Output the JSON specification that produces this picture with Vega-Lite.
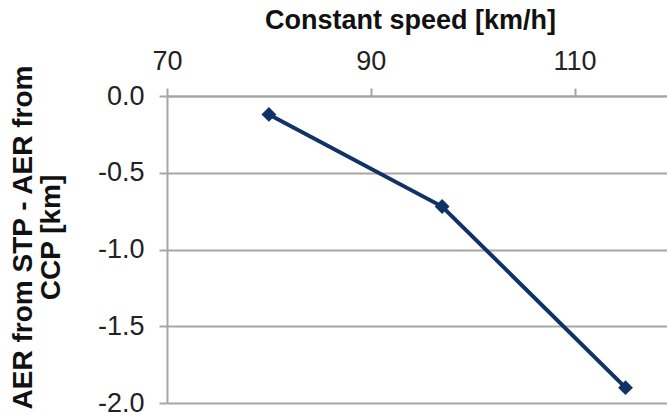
{
  "$schema": "https://vega.github.io/schema/vega-lite/v6.json",
  "width": 500,
  "height": 307,
  "autosize": {"type": "none"},
  "padding": {"left": 167, "top": 96, "right": 0, "bottom": 13},
  "background": "white",
  "config": {
    "view": {"stroke": null},
    "font": "Liberation Sans"
  },
  "data": {
    "values": [
      {"speed": 80, "diff": -0.12},
      {"speed": 97, "diff": -0.72},
      {"speed": 115, "diff": -1.9}
    ]
  },
  "layer": [
    {
      "mark": {"type": "line", "color": "#0f3366", "strokeWidth": 4},
      "encoding": {
        "x": {
          "field": "speed",
          "type": "quantitative",
          "scale": {"domain": [70, 119.07], "nice": false, "zero": false},
          "axis": {
            "orient": "top",
            "title": "Constant speed [km/h]",
            "values": [70, 90, 110],
            "grid": false,
            "domain": true,
            "domainColor": "#a6a6a6",
            "domainWidth": 2,
            "ticks": true,
            "tickColor": "#a6a6a6",
            "tickWidth": 2,
            "tickSize": 8,
            "labelFlush": false,
            "labelOverlap": false,
            "labelFont": "Liberation Sans",
            "labelFontSize": 27,
            "labelColor": "#222222",
            "labelPadding": 13,
            "titleFont": "Liberation Sans",
            "titleFontSize": 27,
            "titleFontWeight": "bold",
            "titleColor": "#111111",
            "titleX": 243,
            "titleY": -62
          }
        },
        "y": {
          "field": "diff",
          "type": "quantitative",
          "scale": {"domain": [-2, 0], "nice": false},
          "axis": {
            "title": ["AER from STP - AER from", "CCP [km]"],
            "values": [0, -0.5, -1, -1.5, -2],
            "format": ".1f",
            "labelExpr": "replace(datum.label, '−', '-')",
            "grid": true,
            "gridColor": "#a6a6a6",
            "gridWidth": 2,
            "domain": true,
            "domainColor": "#a6a6a6",
            "domainWidth": 2,
            "ticks": true,
            "tickColor": "#a6a6a6",
            "tickWidth": 2,
            "tickSize": 8,
            "labelFlush": false,
            "labelOverlap": false,
            "labelFont": "Liberation Sans",
            "labelFontSize": 27,
            "labelColor": "#222222",
            "labelPadding": 15,
            "titleFont": "Liberation Sans",
            "titleFontSize": 28,
            "titleFontWeight": "bold",
            "titleColor": "#111111",
            "titleLineHeight": 28,
            "titleAngle": -90,
            "titleAlign": "center",
            "titleBaseline": "top",
            "titleX": -158,
            "titleY": 141
          }
        }
      }
    },
    {
      "mark": {"type": "point", "shape": "diamond", "filled": true, "color": "#0f3366", "size": 220, "opacity": 1},
      "encoding": {
        "x": {"field": "speed", "type": "quantitative"},
        "y": {"field": "diff", "type": "quantitative"}
      }
    }
  ]
}
